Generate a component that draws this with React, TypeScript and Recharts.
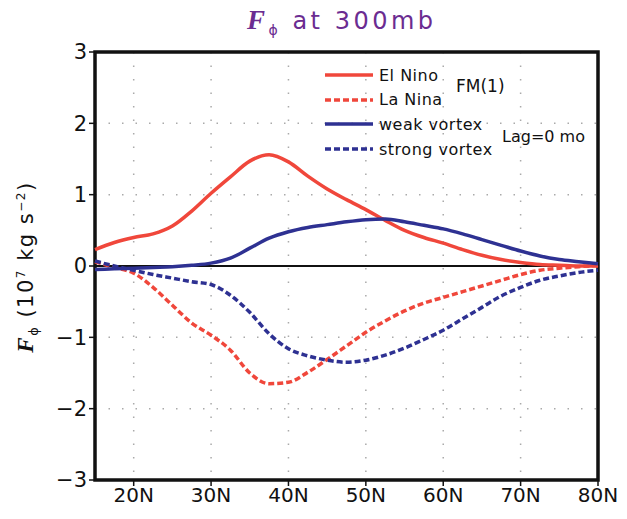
import {
  CartesianGrid,
  Line,
  LineChart,
  ReferenceArea,
  ReferenceLine,
  XAxis,
  YAxis,
} from "recharts";

const lats = [
  15, 17.5, 20, 22.5, 25, 27.5, 30, 32.5, 35, 37.5, 40, 42.5, 45, 47.5, 50,
  52.5, 55, 57.5, 60, 62.5, 65, 67.5, 70, 72.5, 75, 77.5, 80,
];

const elNino = [
  0.23, 0.33, 0.4, 0.45, 0.56, 0.77, 1.02, 1.25, 1.47, 1.56, 1.46, 1.26, 1.08,
  0.93, 0.79, 0.64, 0.5, 0.4, 0.32, 0.23, 0.15, 0.09, 0.05, 0.02, 0.01, 0.0,
  0.0,
];

const laNina = [
  0.06, -0.02, -0.1, -0.3, -0.55, -0.8, -0.97, -1.18, -1.5, -1.65, -1.63,
  -1.49, -1.31, -1.12, -0.93, -0.77, -0.63, -0.52, -0.44, -0.36, -0.28, -0.2,
  -0.12, -0.06, -0.03, -0.01, 0.01,
];

const weakVortex = [
  -0.05, -0.04, -0.03, -0.02, -0.01, 0.01, 0.04, 0.11, 0.25, 0.39, 0.48, 0.54,
  0.58, 0.62, 0.65, 0.66, 0.62, 0.57, 0.52, 0.45, 0.37, 0.29, 0.21, 0.14, 0.09,
  0.06, 0.03,
];

const strongVortex = [
  0.07, 0.0, -0.06, -0.12, -0.17, -0.22, -0.26, -0.41, -0.65, -0.95, -1.16,
  -1.26, -1.32, -1.35, -1.32, -1.25, -1.15, -1.03, -0.9, -0.74, -0.58, -0.42,
  -0.3, -0.2, -0.14, -0.09, -0.06,
];

const xTicks = [20, 30, 40, 50, 60, 70, 80];
const yTicks = [-3, -2, -1, 0, 1, 2, 3];

const RED = "#f0473b";
const BLUE = "#2e3192";

const series = [
  { key: "elNino", name: "El Nino", color: RED, dash: undefined },
  { key: "laNina", name: "La Nina", color: RED, dash: "6 3" },
  { key: "weak", name: "weak vortex", color: BLUE, dash: undefined },
  { key: "strong", name: "strong vortex", color: BLUE, dash: "6 3" },
];

const data = lats.map((lat, i) => ({
  lat,
  elNino: elNino[i],
  laNina: laNina[i],
  weak: weakVortex[i],
  strong: strongVortex[i],
}));

const font = "'DejaVu Sans', sans-serif";
const serif = "'Liberation Serif', serif";

const fmtY = (v: number) => (v < 0 ? `\u2212${-v}` : `${v}`);

export default function App() {
  return (
    <div
      style={{
        position: "absolute",
        left: 0,
        top: 0,
        width: 627,
        height: 519,
        background: "#fff",
        fontFamily: font,
        color: "#111",
      }}
    >
      {/* title */}
      <div
        style={{
          position: "absolute",
          left: 247,
          top: 5,
          whiteSpace: "nowrap",
          color: "#6b2c91",
          fontSize: 24,
          letterSpacing: 3.5,
        }}
      >
        <span style={{ fontFamily: serif, fontStyle: "italic", fontWeight: "bold", fontSize: 27 }}>
          F
        </span>
        <sub style={{ fontSize: 14 }}>ϕ</sub> at 300mb
      </div>

      {/* y axis label */}
      <div
        style={{
          position: "absolute",
          left: 27,
          top: 267,
          transform: "translate(-50%, -50%) rotate(-90deg)",
          whiteSpace: "nowrap",
          fontSize: 21,
          letterSpacing: 1.5,
        }}
      >
        <span style={{ fontFamily: serif, fontStyle: "italic", fontWeight: "bold", fontSize: 23 }}>
          F
        </span>
        <sub style={{ fontSize: 13 }}>ϕ</sub> (10<sup style={{ fontSize: 12 }}>7</sup> kg s
        <sup style={{ fontSize: 12 }}>−2</sup>)
      </div>

      <LineChart
        width={627}
        height={519}
        data={data}
        margin={{ top: 52, right: 29, bottom: 9, left: 55 }}
      >
        <CartesianGrid
          stroke="#aaa"
          strokeWidth={1.5}
          strokeDasharray="1.5 12"
        />
        <XAxis
          dataKey="lat"
          type="number"
          domain={[15, 80]}
          ticks={xTicks}
          tickFormatter={(v) => `${v}N`}
          height={30}
          axisLine={false}
          tickLine={{ stroke: "#111", strokeWidth: 1.5 }}
          tickSize={6}
          tick={{ fill: "#111", fontSize: 20, fontFamily: font }}
        />
        <YAxis
          type="number"
          domain={[-3, 3]}
          ticks={yTicks}
          tickFormatter={fmtY}
          width={40}
          axisLine={false}
          tickLine={{ stroke: "#111", strokeWidth: 1.5 }}
          tickSize={6}
          tick={{ fill: "#111", fontSize: 21, fontFamily: font }}
        />
        <ReferenceLine y={0} stroke="#111" strokeWidth={2} />
        {series.map((s) => (
          <Line
            key={s.key}
            dataKey={s.key}
            name={s.name}
            type="monotone"
            stroke={s.color}
            strokeWidth={3.5}
            strokeDasharray={s.dash}
            dot={false}
            isAnimationActive={false}
          />
        ))}
        <ReferenceArea
          x1={15}
          x2={80}
          y1={-3}
          y2={3}
          fill="none"
          stroke="#111"
          strokeWidth={3.5}
          ifOverflow="visible"
        />
      </LineChart>

      {/* legend */}
      <div style={{ position: "absolute", left: 323, top: 63, fontSize: 16, letterSpacing: 0.5 }}>
        {series.map((s) => (
          <div
            key={s.key}
            style={{ display: "flex", alignItems: "center", height: 24.6 }}
          >
            <svg width={52} height={8}>
              <line
                x1={2}
                x2={50}
                y1={4}
                y2={4}
                stroke={s.color}
                strokeWidth={3.5}
                strokeDasharray={s.dash}
              />
            </svg>
            <span style={{ marginLeft: 4 }}>{s.name}</span>
          </div>
        ))}
      </div>
      <div style={{ position: "absolute", left: 456, top: 76, fontSize: 17 }}>
        FM(1)
      </div>
      <div style={{ position: "absolute", left: 502, top: 127, fontSize: 16 }}>
        Lag=0 mo
      </div>
    </div>
  );
}
